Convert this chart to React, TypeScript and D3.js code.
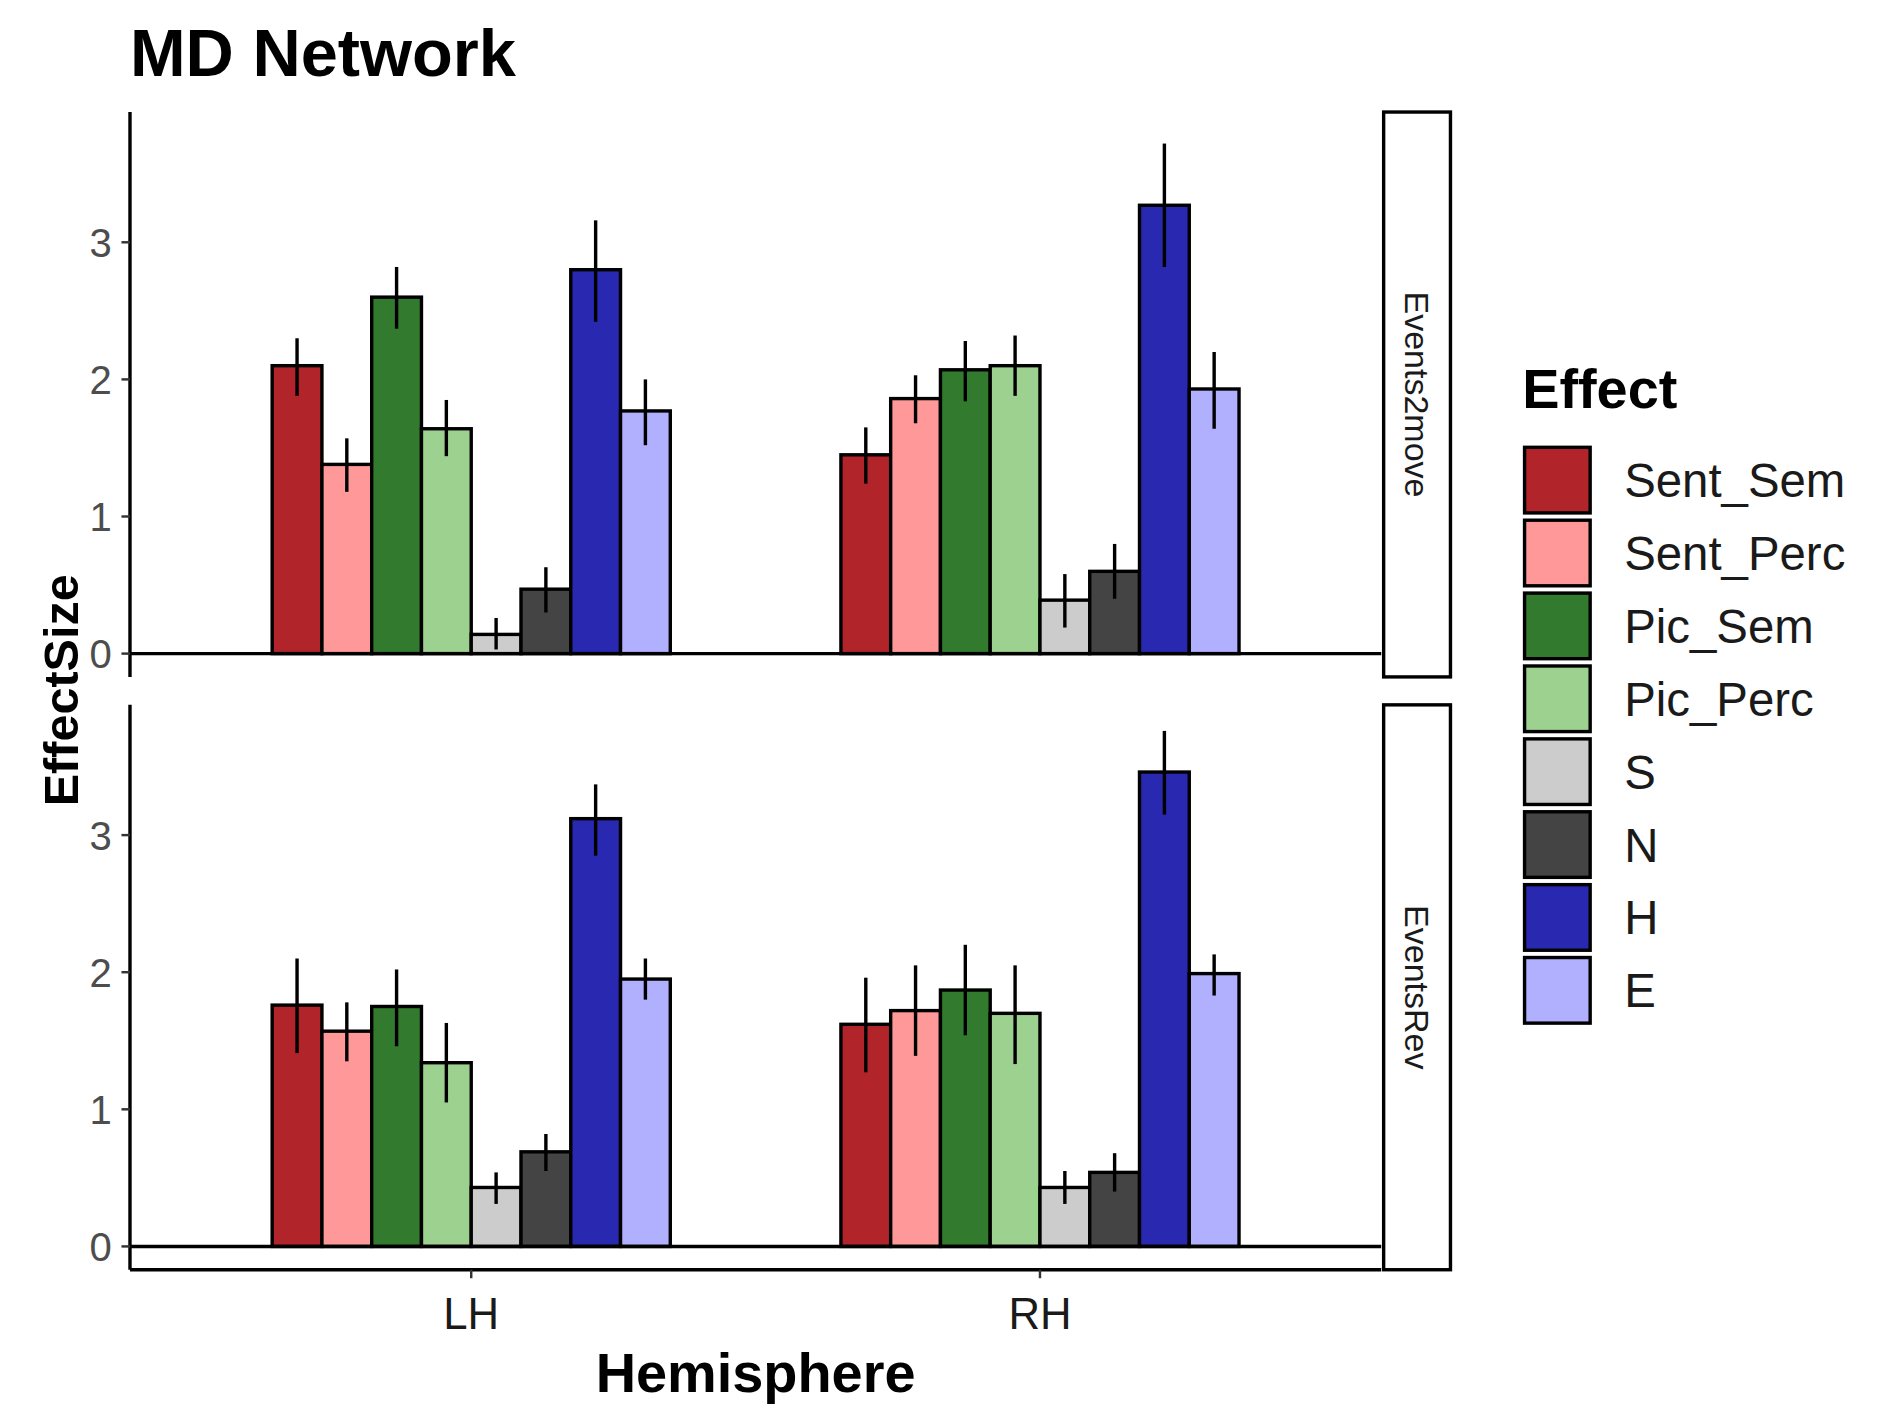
import * as d3 from "d3";

const effects = ["Sent_Sem", "Sent_Perc", "Pic_Sem", "Pic_Perc", "S", "N", "H", "E"];
const colors = ["#B0242A", "#FF9999", "#327A2E", "#9CD18F", "#CCCCCC", "#444444", "#2828B0", "#B0B0FF"];
const hemispheres = ["LH", "RH"];
const panels = ["Events2move", "EventsRev"];
const yTicks = [0, 1, 2, 3];

// [mean, low, high] per hemisphere per effect
const events2move = [
  [[2.1, 1.88, 2.3], [1.38, 1.18, 1.57], [2.6, 2.37, 2.82], [1.64, 1.44, 1.85], [0.14, 0.03, 0.26], [0.47, 0.3, 0.63], [2.8, 2.42, 3.16], [1.77, 1.52, 2.0]],
  [[1.45, 1.24, 1.65], [1.86, 1.68, 2.03], [2.07, 1.84, 2.28], [2.1, 1.88, 2.32], [0.39, 0.19, 0.58], [0.6, 0.4, 0.8], [3.27, 2.82, 3.72], [1.93, 1.64, 2.2]],
];
const eventsRev = [
  [[1.76, 1.41, 2.1], [1.57, 1.35, 1.78], [1.75, 1.46, 2.02], [1.34, 1.05, 1.63], [0.43, 0.31, 0.54], [0.69, 0.55, 0.82], [3.12, 2.85, 3.37], [1.95, 1.8, 2.1]],
  [[1.62, 1.27, 1.96], [1.72, 1.39, 2.05], [1.87, 1.54, 2.2], [1.7, 1.33, 2.05], [0.43, 0.31, 0.55], [0.54, 0.4, 0.68], [3.46, 3.15, 3.76], [1.99, 1.83, 2.13]],
];
const panelData = [events2move, eventsRev];

const W = 1555, H = 1166;
const left = 107, right = 1137;
const panelTops = [92, 580];
const panelH = 465;
const font = "Liberation Sans, Arial, sans-serif";

export default function App() {
  // ggplot-style discrete expansion: 0.6 units on each side
  const x = d3.scalePoint().domain(hemispheres).range([left, right]).padding(0.6);
  const step = x.step();
  const dodge = d3.scaleBand().domain(effects).range([-step * 0.35, step * 0.35]);

  return (
    <svg width={1889} height={1417} viewBox={`0 0 ${W} ${H}`} style={{ position: "absolute", left: 0, top: 0, background: "#fff" }} fontFamily={font}>
      <text x={107} y={62} fontSize={55} fontWeight="bold">MD Network</text>
      {panels.map((p, pi) => {
        const top = panelTops[pi];
        const y = d3.scaleLinear().domain([-0.17, 3.95]).range([top + panelH, top]);
        return (
          <g key={p}>
            {panelData[pi].map((hd, hi) =>
              hd.map((d, ei) => {
                const bx = (x(hemispheres[hi]) ?? 0) + (dodge(effects[ei]) ?? 0);
                const cx = bx + dodge.bandwidth() / 2;
                return (
                  <g key={`${hi}-${ei}`}>
                    <rect x={bx} y={y(d[0])} width={dodge.bandwidth()} height={y(0) - y(d[0])} fill={colors[ei]} stroke="#000" strokeWidth={2.8} />
                    <line x1={cx} x2={cx} y1={y(d[1])} y2={y(d[2])} stroke="#000" strokeWidth={2.8} />
                  </g>
                );
              })
            )}
            <line x1={left} x2={right} y1={y(0)} y2={y(0)} stroke="#000" strokeWidth={2.8} />
            <line x1={left} x2={left} y1={top} y2={top + panelH} stroke="#000" strokeWidth={2.8} />
            {yTicks.map((t) => (
              <g key={t}>
                <line x1={left - 7} x2={left} y1={y(t)} y2={y(t)} stroke="#333" strokeWidth={2} />
                <text x={left - 15} y={y(t)} dy="0.36em" textAnchor="end" fontSize={33} fill="#4d4d4d">{t}</text>
              </g>
            ))}
            <rect x={1139} y={top} width={55} height={panelH} fill="#fff" stroke="#000" strokeWidth={2.8} />
            <text transform={`translate(1166,${top + panelH / 2}) rotate(90)`} textAnchor="middle" dy="0.35em" fontSize={28} fill="#1a1a1a">{p}</text>
          </g>
        );
      })}
      <line x1={left} x2={right} y1={1045} y2={1045} stroke="#000" strokeWidth={2.8} />
      {hemispheres.map((h) => {
        const cx = x(h) ?? 0;
        return (
          <g key={h}>
            <line x1={cx} x2={cx} y1={1045} y2={1052} stroke="#333" strokeWidth={2} />
            <text x={cx} y={1094} textAnchor="middle" fontSize={36} fill="#1a1a1a">{h}</text>
          </g>
        );
      })}
      <text x={622} y={1146} textAnchor="middle" fontSize={46} fontWeight="bold">Hemisphere</text>
      <text transform="translate(50,568) rotate(-90)" textAnchor="middle" dy="0.35em" fontSize={40} fontWeight="bold">EffectSize</text>
      <text x={1253} y={336} fontSize={46} fontWeight="bold">Effect</text>
      {effects.map((e, i) => (
        <g key={e}>
          <rect x={1255} y={368 + i * 60} width={54} height={54} fill={colors[i]} stroke="#000" strokeWidth={2.8} />
          <text x={1337} y={395 + i * 60} dy="0.36em" fontSize={39} fill="#1a1a1a">{e}</text>
        </g>
      ))}
    </svg>
  );
}
